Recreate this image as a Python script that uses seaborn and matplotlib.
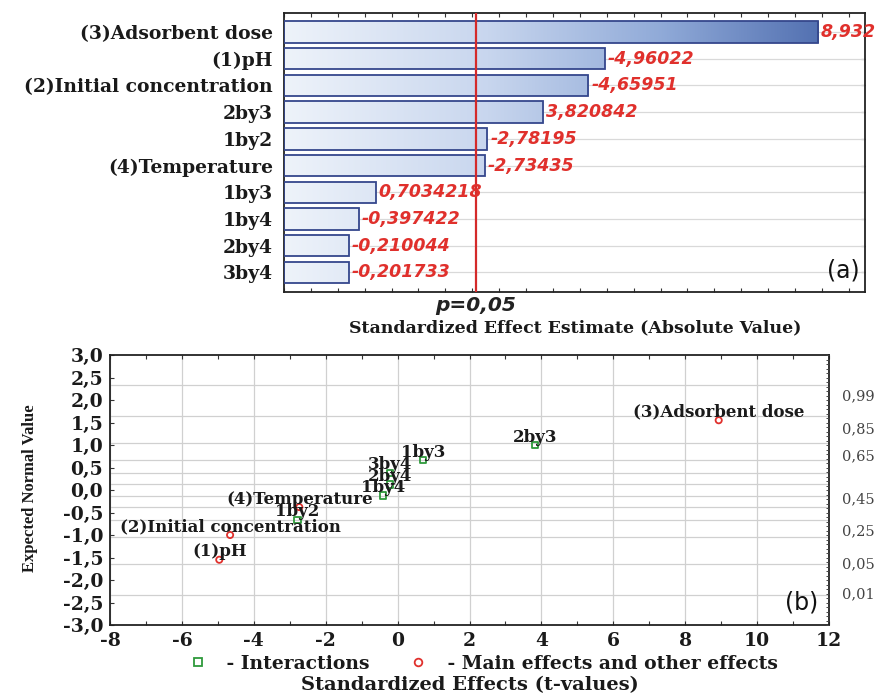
import numpy as np
import pandas as pd
import matplotlib
matplotlib.use("Agg")
import matplotlib.pyplot as plt
import seaborn as sns
from matplotlib.colors import LinearSegmentedColormap
from matplotlib.lines import Line2D
from matplotlib.ticker import FixedLocator, MultipleLocator, FuncFormatter

# ---------------- data ----------------
effects = ["(3)Adsorbent dose", "(1)pH", "(2)Initial concentration", "2by3", "1by2",
           "(4)Temperature", "1by3", "1by4", "2by4", "3by4"]
t_values = [8.932, -4.96022, -4.65951, 3.820842, -2.78195, -2.73435,
            0.7034218, -0.397422, -0.210044, -0.201733]
value_labels = ["8,932", "-4,96022", "-4,65951", "3,820842", "-2,78195", "-2,73435",
                "0,7034218", "-0,397422", "-0,210044", "-0,201733"]
effect_type = ["Main", "Main", "Main", "Interaction", "Interaction", "Main",
               "Interaction", "Interaction", "Interaction", "Interaction"]
expected_normal = [1.55, -1.55, -1.00, 1.00, -0.66, -0.38, 0.66, -0.12, 0.12, 0.38]
p_critical = 2.57
p_label = "p=0,05"

prob_grid_z = [-2.326, -1.645, -1.036, -0.674, -0.385, -0.126,
               0.126, 0.385, 0.674, 1.036, 1.645, 2.326]
prob_labels = ["0,99", "0,85", "0,65", "0,45", "0,25", "0,05", "0,01"]
prob_label_pos = [2.11, 1.38, 0.78, -0.18, -0.89, -1.62, -2.29]

# ---------------- style ----------------
sns.set_theme(style="white")
plt.rcParams["font.family"] = ["DejaVu Serif"]
plt.rcParams["axes.edgecolor"] = "#222222"

W, H = 875, 694
fig = plt.figure(figsize=(W / 100, H / 100), dpi=100)
axA = fig.add_axes([284 / W, 1 - 292 / H, 581 / W, 279 / H])
axB = fig.add_axes([110 / W, 1 - 625 / H, 719 / W, 270 / H])

serif_bold = dict(family="DejaVu Serif", weight="bold", color="#1a1a1a")
red = "#e0302c"

# ---------------- panel (a): Pareto chart ----------------
xlo, xhi = -1.0, 9.8
ypos = np.arange(len(effects))
abs_vals = [abs(v) for v in t_values]
for y in ypos:
    axA.axhline(y, color="#d9d9d9", lw=0.9, zorder=1)
bars = axA.barh(ypos, [a - xlo for a in abs_vals], left=xlo, height=0.8,
                facecolor="none", edgecolor="#35478c", lw=1.3, zorder=3)
cmap = LinearSegmentedColormap.from_list(
    "barg", [(0.0, "#eef3fa"), (0.35, "#c8d6ee"), (0.65, "#90aad8"), (1.0, "#4160a6")])
grad = np.linspace(0, 1, 256).reshape(1, -1)
for b in bars:
    im = axA.imshow(grad, extent=[xlo, xhi, b.get_y() + b.get_height(), b.get_y()],
                    aspect="auto", cmap=cmap, zorder=2, interpolation="bilinear")
    im.set_clip_path(b)
for y, a, lab in zip(ypos, abs_vals, value_labels):
    axA.text(a + 0.05, y, lab, color=red, fontsize=12.5, fontweight="bold",
             fontstyle="italic", family="DejaVu Sans", va="center", ha="left",
             zorder=5, clip_on=False)
axA.axvline(p_critical, color="#d42a2a", lw=1.6, zorder=4)
axA.set_xlim(xlo, xhi)
axA.set_ylim(len(effects) - 0.27, -0.71)
axA.set_yticks(ypos)
axA.set_yticklabels(effects, fontsize=13.5, **serif_bold)
axA.xaxis.set_major_locator(MultipleLocator(1))
axA.xaxis.set_minor_locator(MultipleLocator(0.5))
axA.tick_params(axis="x", which="both", direction="in", top=True, bottom=True,
                labelbottom=False, length=3, width=0.8, color="#333333")
axA.tick_params(axis="y", direction="in", left=True, right=True, length=3,
                width=0.8, pad=8, color="#333333")
for s in axA.spines.values():
    s.set_linewidth(1.3)
axA.text(0.991, 0.078, "(a)", transform=axA.transAxes, ha="right", va="center",
         fontsize=17, family="DejaVu Sans", color="#111111")
axA.annotate(p_label, xy=(p_critical, 0), xycoords=("data", "axes fraction"),
             xytext=(0, -10), textcoords="offset points", ha="center", va="center",
             fontsize=14.5, fontweight="bold", fontstyle="italic",
             family="DejaVu Sans", color="#222222")
fig.text(575 / W, 1 - 328 / H, "Standardized Effect Estimate (Absolute Value)",
         ha="center", va="center", fontsize=12.5, **serif_bold)

# ---------------- panel (b): normal probability plot ----------------
df = pd.DataFrame({"effect": effects, "t": t_values, "z": expected_normal,
                   "type": effect_type})
green = "#2e9a3b"
inter = df[df["type"] == "Interaction"]
main = df[df["type"] == "Main"]
sns.scatterplot(data=inter, x="t", y="z", marker="s", s=20, facecolors="none",
                edgecolors=green, linewidth=1.3, ax=axB, zorder=4, legend=False)
sns.scatterplot(data=main, x="t", y="z", marker="o", s=20, facecolors="none",
                edgecolors=red, linewidth=1.3, ax=axB, zorder=4, legend=False)
for _, r in df.iterrows():
    axB.annotate(r["effect"], xy=(r["t"], r["z"]), xytext=(0, 2.5),
                 textcoords="offset points", ha="center", va="baseline",
                 fontsize=12, zorder=5, **serif_bold)

axB.set_xlim(-8, 12)
axB.set_ylim(-3, 3)
axB.xaxis.set_major_locator(MultipleLocator(2))
axB.xaxis.set_minor_locator(MultipleLocator(1))
axB.yaxis.set_major_locator(MultipleLocator(0.5))
axB.yaxis.set_major_formatter(FuncFormatter(lambda v, p: f"{v:.1f}".replace(".", ",")))
axB.xaxis.set_major_formatter(FuncFormatter(lambda v, p: f"{v:.0f}"))
axB.grid(axis="x", which="major", color="#d0d0d0", lw=0.9)
for z in prob_grid_z:
    axB.axhline(z, color="#d0d0d0", lw=0.9, zorder=1)
axB.tick_params(axis="x", which="both", direction="in", top=True, bottom=True,
                length=3, width=0.8, pad=5, color="#333333")
axB.tick_params(axis="y", direction="in", left=True, right=False, length=3,
                width=0.8, pad=5, color="#333333")
for lab in axB.get_xticklabels() + axB.get_yticklabels():
    lab.set_fontsize(13.5)
    lab.set_fontweight("bold")
    lab.set_color("#1a1a1a")
axB.set_xlabel("")
axB.set_ylabel("")
for s in axB.spines.values():
    s.set_linewidth(1.3)

axR = axB.twinx()
axR.set_ylim(-3, 3)
axR.yaxis.set_major_locator(FixedLocator(prob_label_pos))
axR.set_yticklabels(prob_labels, fontsize=10.5, family="DejaVu Serif", color="#444444")
axR.yaxis.set_minor_locator(MultipleLocator(0.1))
axR.tick_params(axis="y", which="major", direction="in", length=0, pad=9)
axR.tick_params(axis="y", which="minor", direction="in", length=2.5, width=0.7,
                color="#444444")
axR.grid(False)
for s in axR.spines.values():
    s.set_visible(False)

axB.text(0.985, 0.085, "(b)", transform=axB.transAxes, ha="right", va="center",
         fontsize=17, family="DejaVu Sans", color="#111111")

fig.text(30 / W, 1 - 488 / H, "Expected Normal Value", rotation=90, ha="center",
         va="center", fontsize=12, family="Liberation Serif", weight="bold",
         color="#1a1a1a")

handles = [Line2D([], [], ls="none", marker="s", ms=5.5, mfc="none", mec=green, mew=1.3),
           Line2D([], [], ls="none", marker="o", ms=5.5, mfc="none", mec=red, mew=1.3)]
leg = fig.legend(handles, [" - Interactions", " - Main effects and other effects"],
                 loc="center", bbox_to_anchor=(482 / W, 1 - 664 / H), ncol=2,
                 frameon=False, handlelength=1.2, handletextpad=0.6, columnspacing=2.0,
                 prop=dict(family="DejaVu Serif", weight="bold", size=13.5))
for t in leg.get_texts():
    t.set_color("#1a1a1a")
fig.text(469.5 / W, 1 - 685 / H, "Standardized Effects (t-values)", ha="center",
         va="center", fontsize=14, **serif_bold)

fig.savefig("out.png", dpi=100, facecolor="white")
